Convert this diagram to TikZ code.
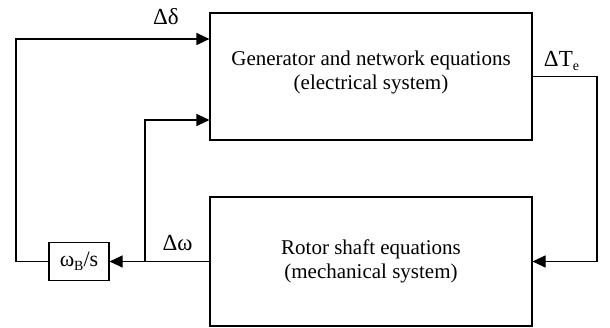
\documentclass[tikz,border=0pt]{standalone}
\usepackage{fontspec}
\setmainfont{Liberation Serif}
\usetikzlibrary{arrows.meta}

\begin{document}
\begin{tikzpicture}[x=1pt,y=1pt,
    blk/.style={draw,line width=1.1pt,align=center,inner sep=0pt,font=\fontsize{21}{23.5}\selectfont},
    sig/.style={line width=1.1pt,-{Triangle[length=13pt,width=12pt]}},
    lbl/.style={anchor=base,inner sep=0pt,font=\fontsize{23}{26}\selectfont}]
  \useasboundingbox (0,0) rectangle (610,328);
  \node[blk,minimum width=322pt,minimum height=127pt,text depth=13pt] (gen) at (371,251.5)
    {Generator and network equations\\(electrical system)};
  \node[blk,minimum width=322pt,minimum height=129pt] (rotor) at (371,66.5)
    {Rotor shaft equations\\(mechanical system)};
  \node[blk,minimum width=60pt,minimum height=38pt,font=\fontsize{22}{24}\selectfont] (intg) at (79,66.5)
    {ω\raisebox{-0.35ex}{\fontsize{14}{14}\selectfont B}/s};
  \coordinate (lft) at (16,289);
  \coordinate (tap) at (145,208);
  \coordinate (rgt) at (597,251.5);
  \draw[sig] (rotor.west) -- (intg.east);
  \draw[sig] (tap |- rotor.west) -- (tap) -- (tap -| gen.west);
  \draw[sig] (intg.west) -| (lft) -- (lft -| gen.west);
  \draw[sig] (gen.east) -- (rgt) |- (rotor.east);
  \node[lbl] (ddelta) at (166,303) {Δδ};
  \node[lbl] (dte) at (561.5,261) {ΔT\raisebox{-0.35ex}{\fontsize{14}{14}\selectfont e}};
  \node[lbl] (domega) at (177.5,77) {Δω};
\end{tikzpicture}
\end{document}
